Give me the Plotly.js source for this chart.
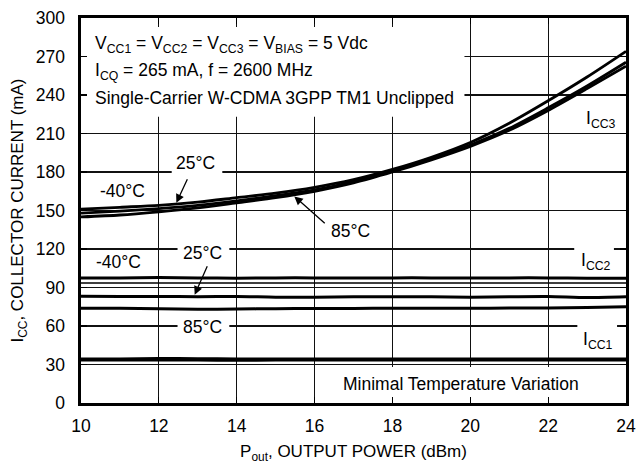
<!DOCTYPE html>
<html>
<head>
<meta charset="utf-8">
<script src="https://cdn.plot.ly/plotly-3.0.1.min.js"></script>
<style>html,body{margin:0;padding:0;background:#fff;}#chart{width:636px;height:469px;}</style>
</head>
<body>
<div id="chart"></div>
<script>
// ---- data ----
const pout = [10, 11, 12, 13, 14, 15, 16, 17, 18, 19, 20, 21, 22, 23, 24];

const icc3_m40 = [151, 152.5, 154, 156.5, 160, 163.5, 168, 174, 182, 191.5, 203, 218, 235.5, 254, 274];
const icc3_25  = [148, 149.5, 151.5, 154, 157.5, 161.5, 166, 172.5, 181, 190, 201, 214, 230, 247, 265.5];
const icc3_85  = [145, 146.5, 149, 152, 156, 160, 165, 171.5, 180, 189.5, 200, 212.5, 228, 245, 262.5];

const icc2_m40 = [97.5, 97.5, 97.8, 97.5, 97.3, 97.5, 97.5, 97.4, 97.5, 97.5, 97.4, 97.5, 97.5, 97.3, 97.3];
const icc2_m40b = [93.5, 93.5, 93.5, 93.5, 93.5, 93.5, 93.5, 93.5, 93.5, 93.5, 93.5, 93.5, 93.5, 93.5, 93.5];
const icc2_25  = [83.2, 83, 83, 82.8, 83, 82.5, 82.5, 82.8, 82.8, 82.8, 82.5, 82.8, 83, 82.2, 82.8];
const icc2_85  = [73.8, 73.8, 73.5, 73, 73.2, 73.5, 73.7, 73.7, 73.8, 73.8, 73.8, 74, 74, 74.5, 75];

const icc1_a = [34.5, 34.5, 34.8, 34.7, 34.5, 34.5, 34.5, 34.5, 34.5, 34.5, 34.5, 34.5, 34.5, 34.5, 34.5];
const icc1_b = [33.3, 33.3, 33.4, 33.3, 33.2, 33.3, 33.3, 33.3, 33.3, 33.3, 33.3, 33.3, 33.3, 33.3, 33.3];

const xTicks = [10, 12, 14, 16, 18, 20, 22, 24];
const yTicks = [0, 30, 60, 90, 120, 150, 180, 210, 240, 270, 300];

// ---- chart ----
const FONT = 'Liberation Sans, Arial, Helvetica, sans-serif';
function line(y, w) {
  return {x: pout, y: y, mode: 'lines', type: 'scatter', hoverinfo: 'skip',
          line: {color: '#000', width: w, shape: 'spline', smoothing: 0.8}, showlegend: false};
}
const traces = [
  line(icc3_m40, 2.8), line(icc3_25, 2.8), line(icc3_85, 2.8),
  line(icc2_m40, 3), line(icc2_m40b, 1.3), line(icc2_25, 3), line(icc2_85, 3),
  line(icc1_a, 2.6), line(icc1_b, 2.6)
];

function lbl(text, x, y, extra) {
  return Object.assign({text: text, x: x, y: y, xref: 'x', yref: 'y', showarrow: false,
    font: {family: FONT, size: 17.5, color: '#000'}, xanchor: 'center', yanchor: 'middle'}, extra || {});
}
function arrow(xh, yh, xt, yt) {
  return {text: '', x: xh, y: yh, ax: xt, ay: yt, xref: 'x', yref: 'y', axref: 'x', ayref: 'y',
    showarrow: true, arrowhead: 2, arrowsize: 1.3, arrowwidth: 1.3, arrowcolor: '#000', standoff: 0, startstandoff: 0};
}
function gap(x0, x1, y0, y1) {
  return {type: 'rect', xref: 'x', yref: 'y', x0: x0, x1: x1, y0: y0, y1: y1,
    fillcolor: '#fff', line: {width: 0}, layer: 'between'};
}

const layout = {
  width: 636, height: 469,
  margin: {l: 81, r: 10, t: 18, b: 66},
  paper_bgcolor: '#fff', plot_bgcolor: '#fff',
  font: {family: FONT, size: 17.5, color: '#000'},
  xaxis: {
    range: [10, 24], tickvals: xTicks, ticktext: xTicks.map(String),
    showgrid: true, gridcolor: '#111', gridwidth: 1.2, zeroline: false,
    showline: true, linecolor: '#000', linewidth: 2.6, mirror: 'ticks',
    ticks: 'inside', ticklen: 6, tickwidth: 1.2, tickcolor: '#000',
    ticklabelstandoff: 5, ticklabeloverflow: 'allow',
    tickfont: {family: FONT, size: 17.5, color: '#000'},
    title: {text: 'P<sub>out</sub>, OUTPUT POWER (dBm)', font: {family: FONT, size: 17, color: '#000'}, standoff: 11}
  },
  yaxis: {
    range: [0, 300], tickvals: yTicks, ticktext: yTicks.map(String),
    showgrid: true, gridcolor: '#111', gridwidth: 1.2, zeroline: false,
    showline: true, linecolor: '#000', linewidth: 2.6, mirror: 'ticks',
    ticks: 'inside', ticklen: 6, tickwidth: 1.2, tickcolor: '#000',
    ticklabelstandoff: 10, ticklabeloverflow: 'allow',
    tickfont: {family: FONT, size: 17.5, color: '#000'},
    title: {text: 'I<sub>CC</sub>, COLLECTOR CURRENT (mA)', font: {family: FONT, size: 17, color: '#000'}, standoff: 8}
  },
  shapes: [
    gap(10.15, 19.85, 223, 293),
    gap(16.5, 23.0, 4, 28),
    gap(12.33, 13.63, 175, 185),
    gap(12.48, 13.81, 115, 125),
    gap(12.48, 13.81, 55, 65),
    gap(22.67, 23.69, 115, 125),
    gap(22.75, 23.77, 55, 65)
  ],
  annotations: [
    lbl('V<sub>CC1</sub> = V<sub>CC2</sub> = V<sub>CC3</sub> = V<sub>BIAS</sub> = 5 Vdc', 10.3, 279, {xanchor: 'left'}),
    lbl('I<sub>CQ</sub> = 265 mA, f = 2600 MHz', 10.3, 258.5, {xanchor: 'left'}),
    lbl('Single-Carrier W-CDMA 3GPP TM1 Unclipped', 10.3, 237.5, {xanchor: 'left'}),
    lbl('-40°C', 11.06, 165),
    lbl('25°C', 12.95, 187),
    lbl('85°C', 16.91, 134.4),
    lbl('-40°C', 10.97, 110),
    lbl('25°C', 13.12, 117),
    lbl('85°C', 13.12, 59.5),
    lbl('I<sub>CC3</sub>', 23.36, 221),
    lbl('I<sub>CC2</sub>', 23.23, 110),
    lbl('I<sub>CC1</sub>', 23.28, 49),
    lbl('Minimal Temperature Variation', 19.75, 14.8),
    arrow(12.45, 156, 12.75, 175.5),
    arrow(15.48, 161, 16.3, 139),
    arrow(12.92, 84.4, 13.26, 107.8)
  ]
};

Plotly.newPlot('chart', traces, layout, {staticPlot: true, displayModeBar: false});
</script>
</body>
</html>
